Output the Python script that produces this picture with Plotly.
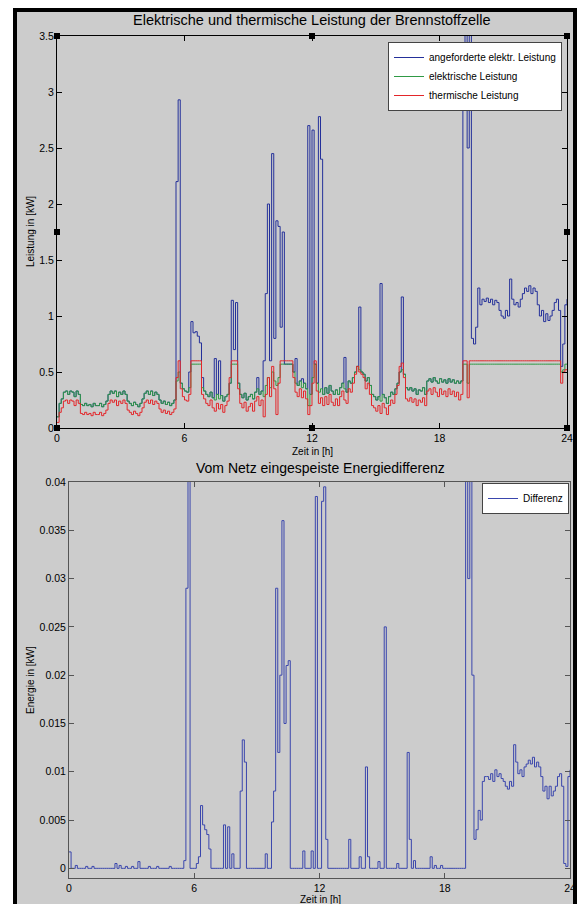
import plotly.graph_objects as go

# ---------------- data ----------------
zeit = [round(i * 0.1, 1) for i in range(241)]  # 0 ... 24 h, 6-min grid

angefordert = [  # angeforderte elektr. Leistung [kW]
    0.10, 0.22, 0.26, 0.32, 0.33, 0.30, 0.33, 0.32, 0.28, 0.33,
    0.30, 0.21, 0.20, 0.22, 0.20, 0.21, 0.19, 0.22, 0.20, 0.20,
    0.22, 0.19, 0.21, 0.24, 0.30, 0.33, 0.31, 0.33, 0.28, 0.32,
    0.30, 0.33, 0.30, 0.24, 0.22, 0.20, 0.23, 0.21, 0.19, 0.22,
    0.26, 0.31, 0.33, 0.30, 0.33, 0.29, 0.32, 0.30, 0.25, 0.22,
    0.24, 0.21, 0.23, 0.20, 0.22, 0.25, 2.20, 2.93, 0.40, 0.35,
    0.33, 0.32, 0.50, 0.95, 0.85, 0.86, 0.82, 0.76, 0.45, 0.33,
    0.30, 0.28, 0.32, 0.27, 0.62, 0.30, 0.60, 0.29, 0.24, 0.28,
    0.30, 0.40, 1.14, 0.70, 1.12, 0.40, 0.30, 0.27, 0.31, 0.25,
    0.28, 0.30, 0.26, 0.32, 0.45, 0.30, 0.33, 0.60, 1.20, 2.00,
    0.60, 2.45, 0.80, 1.85, 1.80, 0.90, 1.75, 0.57, 0.57, 0.57,
    0.57, 0.50, 0.62, 0.38, 0.42, 0.44, 0.40, 0.35, 2.70, 0.30,
    2.66, 0.57, 0.40, 2.78, 2.40, 0.30, 0.36, 0.31, 0.38, 0.33,
    0.30, 0.34, 0.30, 0.36, 0.40, 0.63, 0.32, 0.42, 0.40, 0.45,
    0.50, 0.55, 1.08, 0.50, 0.48, 0.42, 0.45, 0.38, 0.30, 0.28,
    0.25, 0.28, 1.29, 0.30, 0.27, 0.22, 0.28, 0.32, 0.30, 0.35,
    0.40, 0.50, 1.17, 0.48, 0.36, 0.34, 0.36, 0.33, 0.35, 0.30,
    0.34, 0.33, 0.36, 0.30, 0.42, 0.44, 0.41, 0.45, 0.42, 0.40,
    0.44, 0.41, 0.43, 0.40, 0.44, 0.41, 0.43, 0.40, 0.42, 0.40,
    0.42, 3.10, 3.80, 2.50, 3.80, 0.80, 0.75, 0.90, 1.25, 1.10,
    1.15, 1.13, 1.16, 1.12, 1.15, 1.10, 1.14, 1.12, 1.05, 1.00,
    0.98, 1.05, 1.00, 1.33, 1.15, 1.10, 1.12, 1.08, 1.15, 1.20,
    1.25, 1.22, 1.27, 1.20, 1.25, 1.22, 1.10, 1.00, 1.05, 0.95,
    1.02, 0.96, 1.00, 1.05, 1.12, 1.15, 1.05, 0.55, 0.75, 1.10,
    1.15,
]

elektrisch = [  # elektrische Leistung [kW]
    0.10, 0.22, 0.26, 0.32, 0.33, 0.30, 0.33, 0.32, 0.28, 0.33,
    0.30, 0.21, 0.20, 0.22, 0.20, 0.21, 0.19, 0.22, 0.20, 0.20,
    0.22, 0.19, 0.21, 0.24, 0.30, 0.33, 0.31, 0.33, 0.28, 0.32,
    0.30, 0.33, 0.30, 0.24, 0.22, 0.20, 0.23, 0.21, 0.19, 0.22,
    0.26, 0.31, 0.33, 0.30, 0.33, 0.29, 0.32, 0.30, 0.25, 0.22,
    0.24, 0.21, 0.23, 0.20, 0.22, 0.25, 0.42, 0.50, 0.40, 0.35,
    0.33, 0.32, 0.36, 0.57, 0.57, 0.57, 0.57, 0.57, 0.36, 0.33,
    0.30, 0.28, 0.32, 0.27, 0.25, 0.30, 0.26, 0.29, 0.24, 0.28,
    0.30, 0.40, 0.57, 0.57, 0.57, 0.40, 0.30, 0.27, 0.31, 0.25,
    0.28, 0.30, 0.26, 0.32, 0.35, 0.30, 0.33, 0.28, 0.38, 0.45,
    0.36, 0.50, 0.42, 0.38, 0.45, 0.57, 0.57, 0.57, 0.57, 0.57,
    0.57, 0.50, 0.40, 0.38, 0.42, 0.36, 0.40, 0.35, 0.20, 0.30,
    0.45, 0.57, 0.40, 0.32, 0.35, 0.30, 0.36, 0.31, 0.38, 0.33,
    0.30, 0.34, 0.30, 0.36, 0.40, 0.35, 0.32, 0.42, 0.40, 0.45,
    0.50, 0.55, 0.52, 0.50, 0.48, 0.42, 0.45, 0.38, 0.30, 0.28,
    0.25, 0.28, 0.24, 0.30, 0.27, 0.22, 0.28, 0.32, 0.30, 0.35,
    0.40, 0.50, 0.52, 0.48, 0.36, 0.34, 0.36, 0.33, 0.35, 0.30,
    0.34, 0.33, 0.36, 0.30, 0.42, 0.44, 0.41, 0.45, 0.42, 0.40,
    0.44, 0.41, 0.43, 0.40, 0.44, 0.41, 0.43, 0.40, 0.42, 0.40,
    0.42, 0.57, 0.57, 0.40, 0.57, 0.57, 0.57, 0.57, 0.57, 0.57,
    0.57, 0.57, 0.57, 0.57, 0.57, 0.57, 0.57, 0.57, 0.57, 0.57,
    0.57, 0.57, 0.57, 0.57, 0.57, 0.57, 0.57, 0.57, 0.57, 0.57,
    0.57, 0.57, 0.57, 0.57, 0.57, 0.57, 0.57, 0.57, 0.57, 0.57,
    0.57, 0.57, 0.57, 0.57, 0.57, 0.57, 0.57, 0.50, 0.52, 0.57,
    0.57,
]

thermisch = [  # thermische Leistung [kW]
    0.05, 0.14, 0.18, 0.24, 0.25, 0.22, 0.25, 0.24, 0.20, 0.25,
    0.22, 0.13, 0.12, 0.14, 0.12, 0.13, 0.11, 0.14, 0.12, 0.12,
    0.14, 0.11, 0.13, 0.16, 0.22, 0.25, 0.23, 0.25, 0.20, 0.24,
    0.22, 0.25, 0.22, 0.16, 0.14, 0.12, 0.15, 0.13, 0.11, 0.14,
    0.18, 0.23, 0.25, 0.22, 0.25, 0.21, 0.24, 0.22, 0.17, 0.14,
    0.16, 0.13, 0.15, 0.12, 0.14, 0.17, 0.45, 0.60, 0.35, 0.28,
    0.25, 0.24, 0.30, 0.60, 0.60, 0.60, 0.60, 0.60, 0.30, 0.26,
    0.22, 0.20, 0.25, 0.18, 0.15, 0.22, 0.17, 0.21, 0.14, 0.20,
    0.24, 0.45, 0.60, 0.60, 0.60, 0.35, 0.22, 0.18, 0.23, 0.15,
    0.19, 0.22, 0.15, 0.24, 0.28, 0.20, 0.25, 0.10, 0.30, 0.45,
    0.28, 0.55, 0.35, 0.12, 0.40, 0.60, 0.60, 0.60, 0.60, 0.60,
    0.60, 0.45, 0.32, 0.28, 0.35, 0.27, 0.33, 0.26, 0.12, 0.20,
    0.40, 0.60, 0.33, 0.22, 0.27, 0.20, 0.28, 0.21, 0.30, 0.23,
    0.20, 0.26, 0.20, 0.28, 0.33, 0.25, 0.22, 0.35, 0.32, 0.40,
    0.48, 0.55, 0.50, 0.48, 0.45, 0.35, 0.40, 0.30, 0.20, 0.18,
    0.15, 0.20, 0.13, 0.22, 0.18, 0.12, 0.20, 0.25, 0.22, 0.30,
    0.38, 0.55, 0.58, 0.45, 0.26, 0.24, 0.27, 0.23, 0.26, 0.20,
    0.25, 0.23, 0.27, 0.20, 0.33, 0.35, 0.30, 0.36, 0.32, 0.28,
    0.35, 0.30, 0.33, 0.28, 0.35, 0.30, 0.33, 0.28, 0.32, 0.25,
    0.30, 0.60, 0.60, 0.27, 0.60, 0.60, 0.60, 0.60, 0.60, 0.60,
    0.60, 0.60, 0.60, 0.60, 0.60, 0.60, 0.60, 0.60, 0.60, 0.60,
    0.60, 0.60, 0.60, 0.60, 0.60, 0.60, 0.60, 0.60, 0.60, 0.60,
    0.60, 0.60, 0.60, 0.60, 0.60, 0.60, 0.60, 0.60, 0.60, 0.60,
    0.60, 0.60, 0.60, 0.60, 0.60, 0.60, 0.60, 0.40, 0.50, 0.52,
    0.52,
]

differenz = [  # Vom Netz eingespeiste Energiedifferenz
    0.0017, 0, 0, 0.0003, 0, 0, 0, 0, 0.0002, 0,
    0, 0.0002, 0, 0, 0, 0, 0, 0, 0, 0,
    0, 0, 0.0005, 0, 0.0003, 0, 0, 0.0002, 0, 0,
    0.0002, 0, 0, 0.0007, 0, 0, 0, 0, 0.0002, 0,
    0, 0, 0.0002, 0, 0, 0, 0, 0, 0.0002, 0,
    0, 0, 0, 0, 0, 0.0008, 0.029, 0.05, 0, 0,
    0, 0.0005, 0.0012, 0.0065, 0.0045, 0.004, 0.0035, 0.002, 0, 0,
    0, 0, 0, 0, 0.0045, 0, 0.0043, 0, 0.0015, 0,
    0, 0, 0.008, 0.0133, 0.011, 0, 0, 0, 0, 0,
    0, 0, 0, 0, 0.0015, 0, 0, 0.0048, 0.008, 0.029,
    0.012, 0.02, 0.036, 0.015, 0.021, 0.0215, 0, 0, 0, 0,
    0, 0, 0.0018, 0, 0, 0, 0.0018, 0, 0.0385, 0,
    0, 0.038, 0.0395, 0.003, 0, 0, 0, 0, 0, 0,
    0, 0, 0, 0, 0.003, 0, 0, 0, 0, 0.0012,
    0, 0, 0.0105, 0.0012, 0, 0, 0, 0, 0.0007, 0,
    0, 0.025, 0, 0, 0, 0, 0, 0.0005, 0, 0,
    0, 0, 0.012, 0.003, 0, 0.0008, 0, 0, 0, 0,
    0, 0, 0, 0.0012, 0, 0.0003, 0, 0, 0.0003, 0,
    0, 0, 0, 0, 0, 0, 0, 0, 0, 0,
    0.05, 0.03, 0.05, 0.02, 0.003, 0.004, 0.006, 0.005, 0.009, 0.0095,
    0.0095, 0.0092, 0.0098, 0.009, 0.0102, 0.0095, 0.0098, 0.0093, 0.009, 0.0085,
    0.0082, 0.009, 0.0085, 0.0128, 0.011, 0.0098, 0.0102, 0.0095, 0.0105, 0.0108,
    0.0112, 0.0108, 0.0115, 0.0105, 0.011, 0.0105, 0.0095, 0.008, 0.0085, 0.0072,
    0.0085, 0.0075, 0.008, 0.0085, 0.0095, 0.0098, 0.0085, 0.0005, 0.0002, 0.0095,
    0.0102,
]

x_ticks = [0, 6, 12, 18, 24]
y1_ticks = [0, 0.5, 1, 1.5, 2, 2.5, 3, 3.5]
y1_labels = ["0", "0.5", "1", "1.5", "2", "2.5", "3", "3.5"]
y2_ticks = [0, 0.005, 0.01, 0.015, 0.02, 0.025, 0.03, 0.035, 0.04]
y2_labels = ["0", "0.005", "0.01", "0.015", "0.02", "0.025", "0.03", "0.035", "0.04"]

# ---------------- styling ----------------
W, H = 582, 904
FONT = "Liberation Sans, Arial, sans-serif"
BLUE = "#24309a"
BLUE2 = "#3a46ad"
GREEN = "#2f9a45"
RED = "#e3262a"
GRAY_BG = "#cccccc"

def px(x):
    return x / W

def py(y):
    return 1 - y / H

fig = go.Figure()
fig.add_trace(go.Scatter(x=zeit, y=angefordert, mode="lines", name="angeforderte elektr. Leistung",
                         line=dict(color=BLUE, width=1, shape="hv"), xaxis="x", yaxis="y", legend="legend"))
fig.add_trace(go.Scatter(x=zeit, y=elektrisch, mode="lines", name="elektrische Leistung",
                         line=dict(color=GREEN, width=1, shape="hv"), xaxis="x", yaxis="y", legend="legend"))
fig.add_trace(go.Scatter(x=zeit, y=thermisch, mode="lines", name="thermische Leistung",
                         line=dict(color=RED, width=1, shape="hv"), xaxis="x", yaxis="y", legend="legend"))
fig.add_trace(go.Scatter(x=zeit, y=differenz, mode="lines", name="Differenz",
                         line=dict(color=BLUE2, width=1, shape="hv"), xaxis="x2", yaxis="y2", legend="legend2"))

tickfont = dict(family=FONT, size=10.5, color="#000000")
common = dict(showgrid=False, zeroline=False, ticks="inside", ticklen=5, tickwidth=1,
              showline=True, mirror="ticks", tickfont=tickfont, automargin=False)

shapes = [
    dict(type="rect", xref="paper", yref="paper", x0=px(15), x1=px(575), y0=py(10), y1=py(920),
         fillcolor=GRAY_BG, line=dict(color="#000000", width=4), layer="below"),
]
# selection handles on the upper axes
for ax in (0, 0.5, 1):
    for ay in (0, 0.5, 1):
        if ax == 0.5 and ay == 0.5:
            continue
        shapes.append(dict(type="rect", xref="x domain", yref="y domain",
                           xsizemode="pixel", ysizemode="pixel", xanchor=ax, yanchor=ay,
                           x0=-3, x1=3, y0=-3, y1=3, fillcolor="#000000", line=dict(width=0)))

def note(text, x, y, size, angle=0):
    return dict(text=text, x=px(x), y=py(y), xref="paper", yref="paper", showarrow=False,
                xanchor="center", yanchor="middle", textangle=angle,
                font=dict(family=FONT, size=size, color="#000"))

annotations = [
    note("Elektrische und thermische Leistung der Brennstoffzelle", 312, 20, 14.5),
    note("Vom Netz eingespeiste Energiedifferenz", 320, 468, 14),
    note("Zeit in [h]", 312, 451, 10),
    note("Zeit in [h]", 320, 899, 10),
    note("Leistung in [kW]", 31, 232, 10, -90),
    note("Energie in [kW]", 30, 680, 10, -90),
]

fig.update_layout(
    width=W, height=H, margin=dict(l=0, r=0, t=0, b=0, autoexpand=False),
    paper_bgcolor="#ffffff", plot_bgcolor="#ffffff",
    font=dict(family=FONT, size=11, color="#000"),
    xaxis=dict(domain=[px(57), px(567)], range=[0, 24], anchor="y", tickvals=x_ticks,
               linecolor="#000", tickcolor="#000", **common),
    yaxis=dict(domain=[py(428), py(36)], range=[0, 3.5], anchor="x", tickvals=y1_ticks,
               ticktext=y1_labels, linecolor="#000", tickcolor="#000", **common),
    xaxis2=dict(domain=[px(69), px(570)], range=[0, 24], anchor="y2", tickvals=x_ticks,
                linecolor="#555", tickcolor="#555", **common),
    yaxis2=dict(domain=[py(878), py(482)], range=[-0.001, 0.04], anchor="x2", tickvals=y2_ticks,
                ticktext=y2_labels, linecolor="#555", tickcolor="#555", **common),
    legend=dict(x=px(388), y=py(42), xanchor="left", yanchor="top", bgcolor="#ffffff",
                bordercolor="#444", borderwidth=1, font=dict(family=FONT, size=10, color="#000"),
                tracegroupgap=0, itemwidth=30),
    legend2=dict(x=px(482), y=py(483), xanchor="left", yanchor="top", bgcolor="#ffffff",
                 bordercolor="#444", borderwidth=1, font=dict(family=FONT, size=10, color="#000"),
                 itemwidth=30),
    showlegend=True,
    shapes=shapes,
    annotations=annotations,
)

fig.write_html(
    "out.html",
    config={"displayModeBar": False},
    post_script="document.body.style.margin='0';document.body.style.overflow='hidden';",
)
